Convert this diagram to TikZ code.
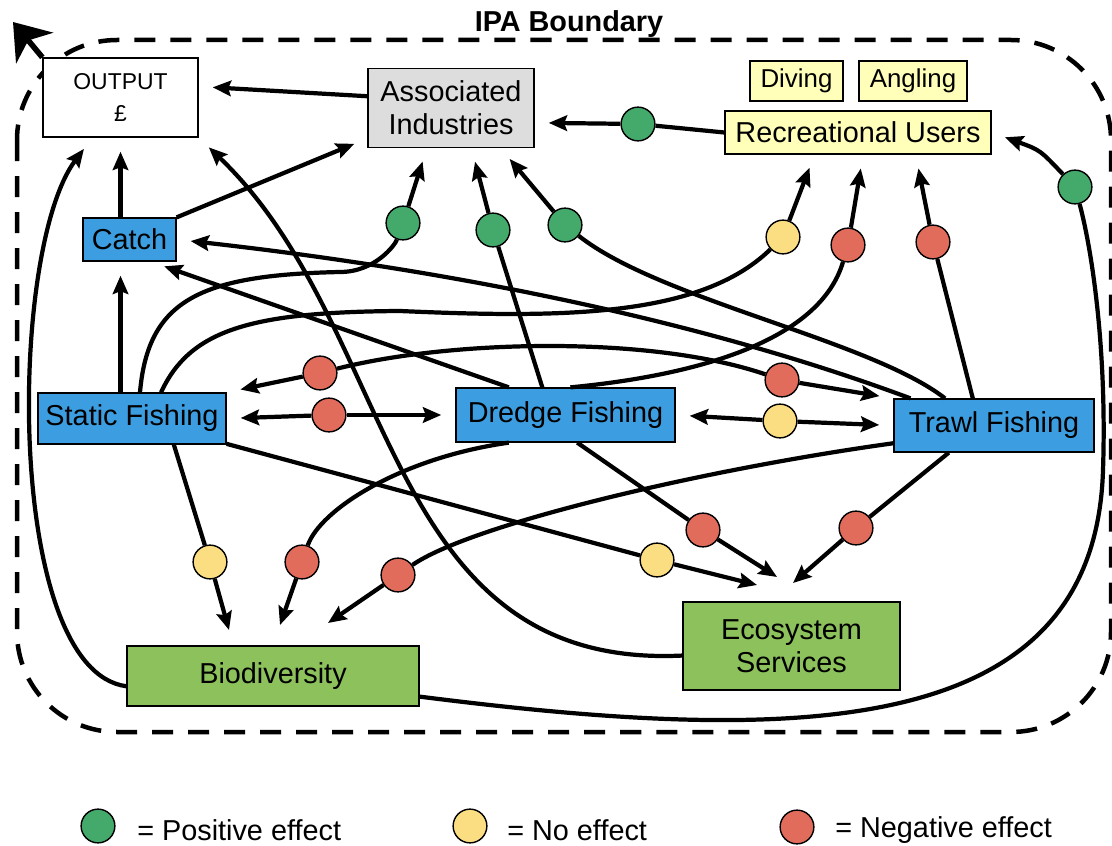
\documentclass[tikz,border=0pt]{standalone}
\usepackage{fontspec}
\setmainfont{Liberation Sans}
\usetikzlibrary{arrows.meta}
\definecolor{fishblue}{RGB}{60,158,224}
\definecolor{envgreen}{RGB}{141,193,92}
\definecolor{usryellow}{RGB}{255,255,186}
\definecolor{indgray}{RGB}{221,221,221}
\definecolor{posgreen}{RGB}{67,170,107}
\definecolor{nilyellow}{RGB}{252,222,130}
\definecolor{negred}{RGB}{226,108,92}
\tikzstyle{bx}=[draw, line width=0.9pt, inner sep=0, align=center, font=\fontsize{20.5}{23.4}\selectfont]
\tikzstyle{fish}=[bx, fill=fishblue]
\tikzstyle{env}=[bx, fill=envgreen]
\tikzstyle{usr}=[bx, fill=usryellow]
\tikzstyle{ef}=[circle, draw, line width=1pt, minimum size=24pt, inner sep=0]
\tikzstyle{gc}=[ef, fill=posgreen]
\tikzstyle{yc}=[ef, fill=nilyellow]
\tikzstyle{rc}=[ef, fill=negred]
\tikzstyle{arr}=[line width=3pt, -{Stealth[length=13pt,width=11pt,inset=2pt]}, shorten >=10pt]
\tikzstyle{arr0}=[arr, shorten >=0pt]
\tikzstyle{bnd}=[line width=3.2pt, dash pattern=on 0.525cm off 0.375cm, rounded corners=2.5cm]
\tikzstyle{lgd}=[anchor=base west, inner sep=0, font=\fontsize{20.5}{24}\selectfont]

\begin{document}
\begin{tikzpicture}[x=0.025cm, y=-0.025cm]
\useasboundingbox (0,0) rectangle (1112,846);
\draw[bnd] (17,40) rectangle (1111,732);
\node[font=\fontsize{20.5}{24}\selectfont\bfseries, anchor=base, inner sep=0] (ipa) at (569,32) {IPA Boundary};

\node[bx, fill=white, minimum width=3.875cm, minimum height=1.975cm, font=\fontsize{16.3}{22.7}\selectfont] (outp) at (120.5,97.5) {OUTPUT\\£};
\node[bx, fill=indgray, minimum width=4.15cm, minimum height=1.975cm] (ai) at (451,108) {Associated\\Industries};
\node[usr, minimum width=2.325cm, minimum height=1cm, font=\fontsize{18.4}{22}\selectfont] (dv) at (796.5,81) {Diving};
\node[usr, minimum width=2.7cm, minimum height=1cm, font=\fontsize{18.4}{22}\selectfont] (ag) at (913,81) {Angling};
\node[usr, minimum width=6.65cm, minimum height=1.075cm] (ru) at (858,132.5) {Recreational Users};
\node[fish, minimum width=2.325cm, minimum height=1.075cm] (catch) at (129.5,239.5) {Catch};
\node[fish, minimum width=4.7cm, minimum height=1.275cm] (sf) at (132,418.5) {Static Fishing};
\node[fish, minimum width=5.475cm, minimum height=1.35cm] (df) at (565.5,415) {Dredge Fishing};
\node[fish, minimum width=5cm, minimum height=1.325cm] (tf) at (994,425.5) {Trawl Fishing};
\node[env, minimum width=7.3cm, minimum height=1.5cm] (bio) at (273,676) {Biodiversity};
\node[env, minimum width=5.425cm, minimum height=2.2cm] (eco) at (791.5,646) {Ecosystem\\Services};

\node[gc] (g1) at (403,223) {};
\node[gc] (g2) at (493,230) {};
\node[gc] (g3) at (565,225) {};
\node[gc] (g4) at (638,124) {};
\node[gc] (g5) at (1075,187) {};
\node[yc] (y1) at (210,562) {};
\node[yc] (y2) at (783,237) {};
\node[yc] (y3) at (780,421) {};
\node[yc] (y4) at (657,560) {};
\node[rc] (r1) at (320,373) {};
\node[rc] (r2) at (329,415) {};
\node[rc] (r3) at (302,562) {};
\node[rc] (r4) at (398,575) {};
\node[rc] (r5) at (703,530) {};
\node[rc] (r6) at (856,528) {};
\node[rc] (r7) at (782,380) {};
\node[rc] (r8) at (848,245) {};
\node[rc] (r9) at (933,242) {};

\coordinate (bioA) at (229,630);
\coordinate (bioB) at (280,625);
\coordinate (bioC) at (328,623);
\coordinate (ecoA) at (757,585);
\coordinate (ecoB) at (777,577);
\coordinate (ecoC) at (793,583);
\coordinate (exit) at (13,22);

\draw[arr] (ai.172) -- (outp.8);
\draw[arr] (catch.north -| outp.south) -- (outp.south);
\draw[arr] (sf.north -| outp.south) -- (catch.south -| outp.south);
\draw[arr] (catch.north east) -- (ai.200);
\draw[arr] (ru.west) -- (g4) -- (ai.-10);
\draw[arr] (bio.184) .. controls (5,670) and (8,250) .. (outp.235);
\draw[arr] (eco.185) .. controls (380,670) and (400,330) .. (outp.south east);
\draw[arr] (bio.-8) .. controls (800,745) and (1095,740) .. (1103,470) .. controls (1107,350) and (1092,250) .. (g5) .. controls (1040,150) .. (ru.east);
\draw[arr] (sf.73) .. controls (148,300) and (200,275) .. (340,272) .. controls (375,272) and (395,245) .. (g1) -- (ai.239);
\draw[arr] (df.130) -- (g2) -- (ai.-63);
\draw[arr] (tf.151) .. controls (870,340) and (660,300) .. (g3) -- (ai.-39);
\draw[arr] (sf.42) .. controls (190,330) and (250,312) .. (400,311) .. controls (560,318) and (700,318) .. (y2) -- (ru.207);
\draw[arr] (df.80) .. controls (700,375) and (820,340) .. (r8) -- (ru.-77);
\draw[arr] (tf.128) -- (r9) -- (ru.-21);
\draw[arr] (tf.162) .. controls (700,320) and (450,270) .. (catch.east);
\draw[arr] (df.154) -- (catch.-46);
\draw[arr] (r1) -- (sf.north east);
\draw[arr] (r1) .. controls (450,340) and (650,335) .. (r7) -- (tf.north west);
\draw[arr] (r2) -- (sf.east);
\draw[arr] (r2) -- (df.west);
\draw[arr] (y3) -- (df.east);
\draw[arr] (y3) -- (tf.west);
\draw[arr0] (sf.-32) -- (y1) -- (bioA);
\draw[arr0] (df.206) .. controls (400,458) and (320,510) .. (r3) -- (bioB);
\draw[arr0] (tf.190) .. controls (700,470) and (470,525) .. (r4) -- (bioC);
\draw[arr0] (sf.-15) -- (y4) -- (ecoA);
\draw[arr0] (df.-67) -- (r5) -- (ecoB);
\draw[arr0] (tf.211) -- (r6) -- (ecoC);
\draw[line width=4pt, -{Stealth[length=24pt,width=34pt,inset=7pt]}] (outp.north west) -- (exit);

\node[gc] (lg) at (98,826) {};
\node[lgd] (lgt) at (137,840) {= Positive effect};
\node[yc] (ly) at (470,826) {};
\node[lgd] (lyt) at (507,840) {= No effect};
\node[rc] (lr) at (797,827) {};
\node[lgd] (lrt) at (835,837) {= Negative effect};
\end{tikzpicture}
\end{document}
